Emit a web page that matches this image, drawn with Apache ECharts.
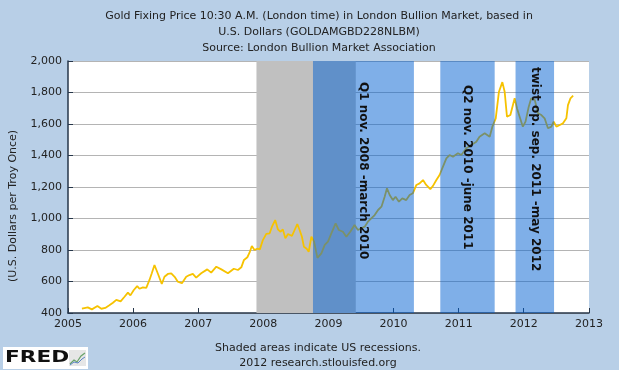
<!DOCTYPE html>
<html><head><meta charset="utf-8">
<script src="https://cdn.jsdelivr.net/npm/echarts@6/dist/echarts.min.js"></script>
<style>html,body{margin:0;padding:0;background:#b8cfe7}#c{width:619px;height:370px}</style>
</head><body><div id="c"></div>
<script>
const dates = ['2005-03-20','2005-04-22','2005-05-15','2005-06-15','2005-07-07','2005-07-29','2005-08-21','2005-09-10','2005-09-29','2005-10-23','2005-11-14','2005-12-03','2005-12-17',
'2006-01-05','2006-01-24','2006-02-06','2006-02-25','2006-03-16','2006-04-03','2006-04-16','2006-05-01','2006-05-12','2006-05-23','2006-06-11','2006-06-26','2006-07-15','2006-08-03','2006-08-22','2006-09-09','2006-10-02','2006-10-26','2006-11-13','2006-12-02','2006-12-21',
'2007-01-18','2007-02-21','2007-03-15','2007-04-13','2007-05-11','2007-06-17','2007-07-20','2007-08-12','2007-08-31','2007-09-15','2007-10-04','2007-10-16','2007-10-29','2007-11-13','2007-11-28','2007-12-13','2007-12-30',
'2008-01-18','2008-02-06','2008-02-19','2008-03-08','2008-03-23','2008-04-07','2008-04-20','2008-05-04','2008-05-19','2008-06-10','2008-06-25','2008-07-10','2008-07-23','2008-08-05','2008-08-16','2008-09-01','2008-09-12','2008-09-27','2008-10-12','2008-10-31','2008-11-22','2008-12-11','2008-12-29',
'2009-01-17','2009-02-10','2009-02-28','2009-03-23','2009-04-11','2009-05-03','2009-05-27','2009-06-15','2009-07-04','2009-07-23','2009-08-10','2009-08-29','2009-09-17','2009-10-06','2009-10-25','2009-11-12','2009-11-25','2009-12-10','2009-12-28',
'2010-01-12','2010-01-31','2010-02-19','2010-03-13','2010-04-01','2010-04-19','2010-05-09','2010-05-27','2010-06-15','2010-07-03','2010-07-26','2010-08-10','2010-08-29','2010-09-16','2010-10-05','2010-10-24','2010-11-11','2010-11-30','2010-12-28',
'2011-01-16','2011-02-13','2011-03-13','2011-04-10','2011-04-28','2011-05-27','2011-06-24','2011-07-09','2011-07-28','2011-08-15','2011-09-03','2011-09-16','2011-09-29','2011-10-18','2011-10-29','2011-11-11','2011-11-24','2011-12-09','2011-12-27',
'2012-01-11','2012-01-29','2012-02-12','2012-03-03','2012-03-21','2012-04-09','2012-04-27','2012-05-16','2012-06-04','2012-06-17','2012-07-02','2012-07-21','2012-08-08','2012-08-27','2012-09-05','2012-09-19','2012-10-04'];
const prices = [427,436,423,444,427,432,449,465,483,474,503,529,512,
546,571,554,563,559,610,652,705,673,641,584,630,648,652,630,599,589,630,641,648,625,
652,677,656,694,677,652,681,673,690,737,754,783,825,800,808,804,863,
902,906,948,990,931,916,931,874,902,889,927,965,927,884,821,808,789,884,853,750,779,832,853,
906,969,927,916,884,916,959,927,938,948,980,1001,1022,1054,1075,1138,1192,1149,1117,
1138,1107,1128,1117,1149,1160,1213,1223,1244,1213,1186,1207,1244,1276,1329,1382,1403,1392,1414,
1403,1446,1467,1488,1519,1541,1519,1583,1636,1805,1866,1805,1646,1657,1657,1763,1700,1646,1583,
1615,1710,1763,1752,1668,1657,1636,1573,1583,1615,1583,1594,1604,1636,1720,1763,1780];
const yTicks = [400,600,800,1000,1200,1400,1600,1800,2000];
const xYears = ['2005','2006','2007','2008','2009','2010','2011','2012','2013'];
const recessionStarts = ['2007-11-24'];
const recessionEnds = ['2009-06-03'];
const qeStarts = ['2008-10-06','2010-09-20','2011-11-16'];
const qeEnds = ['2010-04-25','2011-07-22','2012-06-19'];
const qeLabels = ['Q1 nov. 2008 -march 2010','Q2 nov. 2010 -june 2011','twist op. sep. 2011 -may 2012'];

const F = 'DejaVu Sans';
const chart = echarts.init(document.getElementById('c'), null, {renderer:'canvas'});
const yearVals = xYears.map(y => new Date(+y, 0, 1).getTime());
const YEAR = 365 * 24 * 3600 * 1000;
const series = [
  {type:'line', z:1, data:[], silent:true,
   markArea:{silent:true, z:1, itemStyle:{color:'#c0c0c0'},
     data: recessionStarts.map((s,i)=>[{xAxis:s},{xAxis:recessionEnds[i]}])}},
  {type:'line', z:2, data: dates.map((d,i)=>[d, prices[i]]), showSymbol:false, symbol:'none',
   lineStyle:{color:'#f6c200', width:1.8}, itemStyle:{color:'#f6c200'}},
  {type:'line', zlevel:1, z:3, data:[], silent:true,
   markArea:{silent:true, zlevel:1, z:3, itemStyle:{color:'rgba(0,95,210,0.5)'},
     data: qeStarts.map((s,i)=>[{xAxis:s},{xAxis:qeEnds[i]}])}}
];
const option = {
  animation:false,
  backgroundColor:'#b8cfe7',
  title:{text:'Gold Fixing Price 10:30 A.M. (London time) in London Bullion Market, based in\nU.S. Dollars (GOLDAMGBD228NLBM)\nSource: London Bullion Market Association',
    left:314, top:3, textAlign:'center',
    textStyle:{fontFamily:F, fontSize:11, fontWeight:'normal', color:'#222', lineHeight:16}},
  grid:{left:68, right:30, top:61, bottom:57, show:true, backgroundColor:'#fff', borderWidth:0},
  xAxis:{type:'time', min:yearVals[0], max:yearVals[yearVals.length-1], splitNumber:8,
    minInterval:YEAR, maxInterval:YEAR + 86400000,
    axisLine:{lineStyle:{color:'#26364a', width:1.5}},
    axisTick:{show:true, inside:true, length:5, lineStyle:{color:'#26364a'}},
    axisLabel:{formatter:'{yyyy}', showMinLabel:true, showMaxLabel:true, fontFamily:F, fontSize:11, color:'#222', margin:6},
    splitLine:{show:false}},
  yAxis:{type:'value', min:yTicks[0], max:yTicks[yTicks.length-1], interval:yTicks[1]-yTicks[0],
    axisLine:{show:true, lineStyle:{color:'#26364a', width:1.5}},
    axisTick:{show:true, inside:true, length:5, lineStyle:{color:'#26364a'}},
    axisLabel:{formatter:v=>v.toLocaleString('en-US'), fontFamily:F, fontSize:11, color:'#222', margin:6},
    splitLine:{lineStyle:{color:'#b4b4b4', width:1}}},
  series: series
};
chart.setOption(option);

const tops = [82, 85, 67];
const g = [];
qeLabels.forEach((t,i)=>{
  const x0 = chart.convertToPixel({xAxisIndex:0}, qeStarts[i]);
  const x1 = chart.convertToPixel({xAxisIndex:0}, qeEnds[i]);
  g.push({type:'text', x:(x0+x1)/2, y:tops[i], rotation:-Math.PI/2, zlevel:2, z:10,
    style:{text:t, font:'bold 12px "DejaVu Sans"', fill:'#111', align:'left', verticalAlign:'middle'}});
});
g.push({type:'text', x:13.5, y:206, rotation:Math.PI/2, z:10,
  style:{text:'(U.S. Dollars per Troy Once)', font:'11px "DejaVu Sans"', fill:'#222', align:'center', verticalAlign:'middle'}});
g.push({type:'text', x:318, y:348, style:{text:'Shaded areas indicate US recessions.', font:'11px "DejaVu Sans"', fill:'#222', align:'center', verticalAlign:'middle'}});
g.push({type:'text', x:318, y:363, style:{text:'2012 research.stlouisfed.org', font:'11px "DejaVu Sans"', fill:'#222', align:'center', verticalAlign:'middle'}});
g.push({type:'rect', shape:{x:3, y:347, width:85, height:22}, style:{fill:'#fff'}});
g.push({type:'text', x:5, y:358, scaleX:1.35, style:{text:'FRED', font:'bold 16px "DejaVu Sans"', fill:'#111', align:'left', verticalAlign:'middle'}});
g.push({type:'rect', shape:{x:69, y:350, width:17, height:16}, style:{fill:'#e6e6e6'}});
g.push({type:'polyline', shape:{points:[[70,364],[74,360],[77,362],[81,356],[85,353]]}, style:{stroke:'#6aa36a', lineWidth:1.2, fill:null}});
g.push({type:'polyline', shape:{points:[[70,365],[74,362],[78,363],[82,359],[85,357]]}, style:{stroke:'#5b84c4', lineWidth:1, fill:null}});
chart.setOption({graphic:g});
</script></body></html>
